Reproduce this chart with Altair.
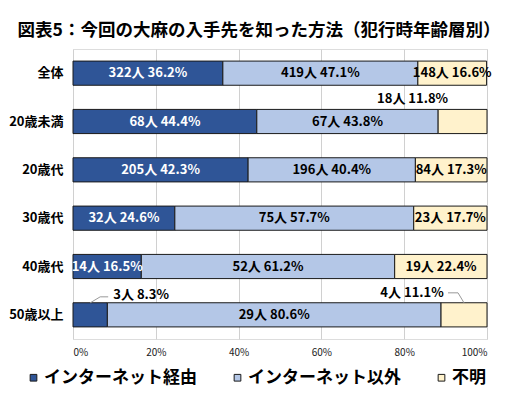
import altair as alt
import pandas as pd

categories = ["全体", "20歳未満", "20歳代", "30歳代", "40歳代", "50歳以上"]
series = ["インターネット経由", "インターネット以外", "不明"]
pct_net = [36.2, 44.4, 42.3, 24.6, 16.5, 8.3]
pct_other = [47.1, 43.8, 40.4, 57.7, 61.2, 80.6]
pct_unknown = [16.6, 11.8, 17.3, 17.7, 22.4, 11.1]
n_net = [322, 68, 205, 32, 14, 3]
n_other = [419, 67, 196, 75, 52, 29]
n_unknown = [148, 18, 84, 23, 19, 4]
x_ticks = [0, 20, 40, 60, 80, 100]
colors = ["#2F5597", "#B4C7E7", "#FFF2CC"]

FONT = "Noto Sans CJK JP"

rows = []
for i, c in enumerate(categories):
    start = 0.0
    for k, (s, pcts, ns) in enumerate(zip(series, [pct_net, pct_other, pct_unknown], [n_net, n_other, n_unknown])):
        p = pcts[i]
        n = ns[i]
        rows.append(dict(cat=c, series=s, k=k, pct=p, n=n, start=start,
                         end=min(start + p, 100.0), mid=start + p / 2,
                         label=f"{n}人 {p}%"))
        start += p
df = pd.DataFrame(rows)

base = alt.Chart(df)

y = alt.Y("cat:N", sort=categories, title=None,
          scale=alt.Scale(paddingInner=0.5, paddingOuter=0.25),
          axis=alt.Axis(domain=False, ticks=False, labelFont=FONT, labelFontSize=13,
                        labelFontWeight="bold", labelColor="#000000", labelPadding=10))
x = alt.X("start:Q", title=None,
          scale=alt.Scale(domain=[0, 100], clamp=True, nice=False),
          axis=alt.Axis(values=x_ticks, labelExpr="datum.value + '%'", grid=True,
                        gridColor="#D0D0D0", gridWidth=1, domain=False, ticks=False,
                        labelFont=FONT, labelFontSize=10, labelColor="#222222",
                        labelPadding=8))

bars = base.mark_bar(stroke="#1a1a1a", strokeWidth=1).encode(
    x=x, x2="end:Q", y=y,
    color=alt.Color("series:N", sort=series,
                    scale=alt.Scale(domain=series, range=colors),
                    legend=alt.Legend(title=None, orient="none", direction="horizontal",
                                      legendX=-48, legendY=320, symbolType="square",
                                      symbolSize=45, symbolStrokeColor="#1a1a1a",
                                      symbolStrokeWidth=1, labelFont=FONT,
                                      labelFontSize=17, labelFontWeight="bold",
                                      labelColor="#000000", labelOffset=2,
                                      columnPadding=32)),
)

special = "(datum.cat == '20歳未満' && datum.k == 2) || (datum.cat == '50歳以上' && datum.k != 1)"

txt_common = dict(font=FONT, fontSize=13, fontWeight="bold", baseline="middle", align="center")

labels_in = base.transform_filter("!(" + special + ")").mark_text(**txt_common).encode(
    x="mid:Q", y=alt.Y("cat:N", sort=categories),
    color=alt.condition("datum.k == 0", alt.value("#ffffff"), alt.value("#000000")),
    text="label:N",
)

lab_u20 = base.transform_filter("datum.cat == '20歳未満' && datum.k == 2").mark_text(
    dx=-50, dy=-23, color="#000000", **txt_common).encode(
    x="mid:Q", y=alt.Y("cat:N", sort=categories), text="label:N")

lab_50a = base.transform_filter("datum.cat == '50歳以上' && datum.k == 0").mark_text(
    dx=51, dy=-20, color="#000000", **txt_common).encode(
    x="mid:Q", y=alt.Y("cat:N", sort=categories), text="label:N")

lab_50c = base.transform_filter("datum.cat == '50歳以上' && datum.k == 2").mark_text(
    dx=-52, dy=-22, color="#000000", **txt_common).encode(
    x="mid:Q", y=alt.Y("cat:N", sort=categories), text="label:N")

lead_a1 = base.transform_filter("datum.cat == '50歳以上' && datum.k == 0").mark_rule(
    color="#999999", strokeWidth=1, yOffset=-12, y2Offset=-18, x2Offset=10).encode(
    x="mid:Q", x2="mid:Q", y=alt.Y("cat:N", sort=categories), y2="cat:N")
lead_a2 = base.transform_filter("datum.cat == '50歳以上' && datum.k == 0").mark_rule(
    color="#999999", strokeWidth=1, xOffset=10, x2Offset=18, yOffset=-18, y2Offset=-18).encode(
    x="mid:Q", x2="mid:Q", y=alt.Y("cat:N", sort=categories), y2="cat:N")
lead_c1 = base.transform_filter("datum.cat == '50歳以上' && datum.k == 2").mark_rule(
    color="#999999", strokeWidth=1, yOffset=-12, y2Offset=-22, x2Offset=-6).encode(
    x="mid:Q", x2="mid:Q", y=alt.Y("cat:N", sort=categories), y2="cat:N")
lead_c2 = base.transform_filter("datum.cat == '50歳以上' && datum.k == 2").mark_rule(
    color="#999999", strokeWidth=1, xOffset=-6, x2Offset=-16, yOffset=-22, y2Offset=-22).encode(
    x="mid:Q", x2="mid:Q", y=alt.Y("cat:N", sort=categories), y2="cat:N")

chart = alt.layer(bars, labels_in, lab_u20, lab_50a, lab_50c,
                  lead_a1, lead_a2, lead_c1, lead_c2).properties(
    width=414, height=290,
    autosize=alt.AutoSizeParams(type="none"),
    padding={"top": 41, "left": 65, "right": 15, "bottom": 48},
    title=alt.TitleParams("図表5：今回の大麻の入手先を知った方法（犯行時年齢層別）",
                          font=FONT, fontSize=17.5, fontWeight="bold", color="#000000",
                          anchor="middle", frame="group", offset=10, dx=-21),
).configure_view(stroke=None).configure(background="#ffffff")

chart.save("out.html", embed_options={"renderer": "svg", "actions": False})
